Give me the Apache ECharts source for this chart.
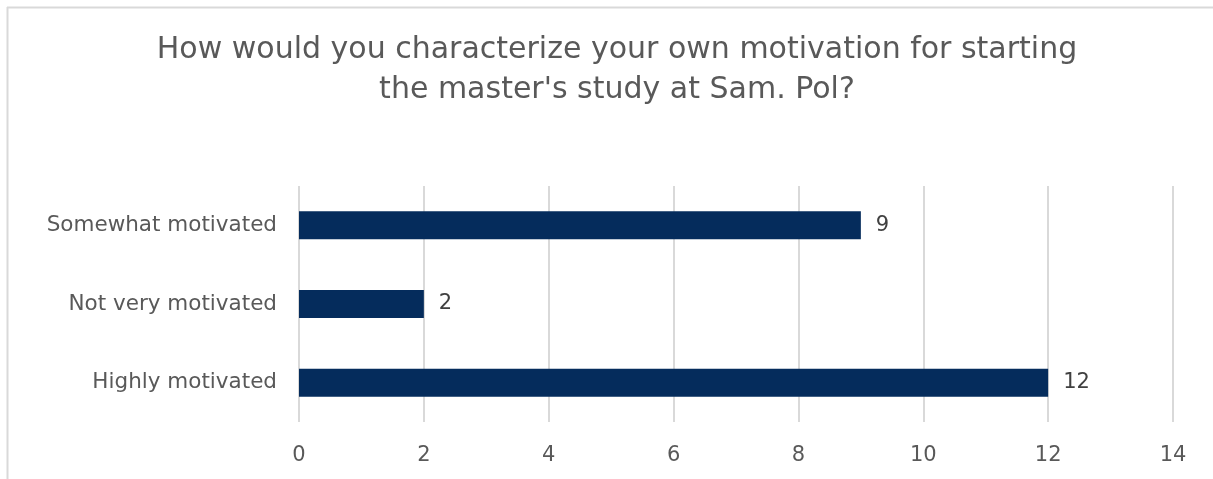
<!DOCTYPE html>
<html><head><meta charset="utf-8">
<script src="https://cdn.jsdelivr.net/npm/echarts@6/dist/echarts.min.js"></script>
<style>html,body{margin:0;padding:0;background:#fff}#c{width:1213px;height:479px}</style>
</head><body><div id="c"></div>
<script>
const titleText = "How would you characterize your own motivation for starting\nthe master's study at Sam. Pol?";
const categories = ["Highly motivated", "Not very motivated", "Somewhat motivated"];
const values = [12, 2, 9];
const xTicks = [0, 2, 4, 6, 8, 10, 12, 14];
const FONT = "DejaVu Sans";
const chart = echarts.init(document.getElementById('c'));
chart.setOption({
  animation: false,
  backgroundColor: '#fff',
  title: {
    text: titleText, left: 612, top: 25, textAlign: 'center',
    textStyle: {fontFamily: FONT, fontSize: 30, fontWeight: 'normal', color: '#595959', lineHeight: 40}
  },
  graphic: [
    {type: 'line', shape: {x1: 7, y1: 7.5, x2: 1213, y2: 7.5}, style: {stroke: '#d9d9d9', lineWidth: 2}},
    {type: 'line', shape: {x1: 7.5, y1: 7, x2: 7.5, y2: 479}, style: {stroke: '#d9d9d9', lineWidth: 2}}
  ],
  grid: {left: 299, right: 40, top: 186, bottom: 57, containLabel: false},
  xAxis: {
    type: 'value', min: 0, max: 14, interval: 2,
    axisLine: {show: false}, axisTick: {show: false},
    splitLine: {lineStyle: {color: '#d9d9d9', width: 2}},
    axisLabel: {fontFamily: FONT, fontSize: 21, color: '#595959', margin: 23,
      formatter: v => xTicks.includes(v) ? String(v) : ''}
  },
  yAxis: {
    type: 'category', data: categories,
    axisLine: {show: false}, axisTick: {show: false},
    axisLabel: {fontFamily: FONT, fontSize: 21.5, color: '#595959', margin: 22}
  },
  series: [{
    type: 'bar', data: values, barWidth: 28,
    itemStyle: {color: '#052c5c'},
    label: {show: true, position: 'right', distance: 15, fontFamily: FONT, fontSize: 21, color: '#404040'}
  }]
});
</script></body></html>
